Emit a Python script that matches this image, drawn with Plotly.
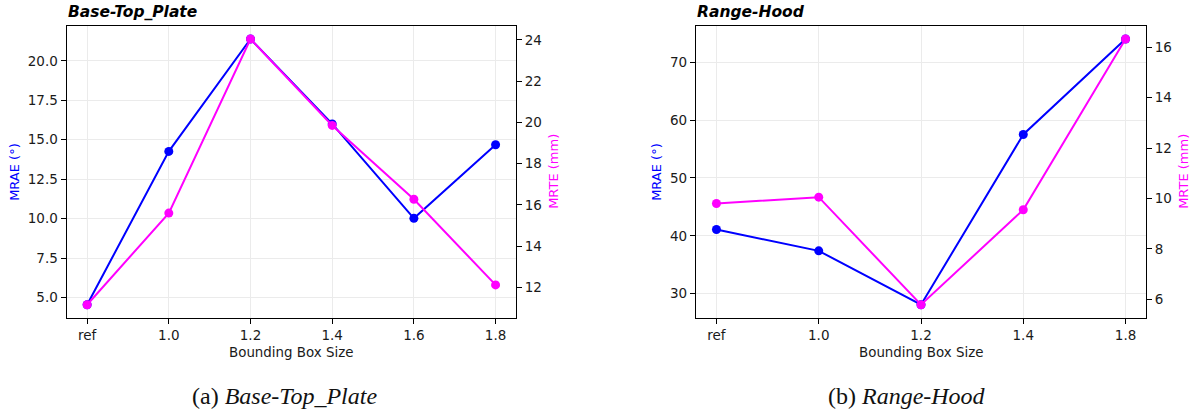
import plotly.graph_objects as go

# Bounding-box scale factors
sizes_a = ["ref", "1.0", "1.2", "1.4", "1.6", "1.8"]
sizes_b = ["ref", "1.0", "1.2", "1.4", "1.8"]

# Base-Top_Plate errors
mrae_a = [4.55, 14.26, 21.38, 16.0, 10.02, 14.68]
mrte_a = [11.16, 15.6, 24.04, 19.85, 16.27, 12.12]

# Range-Hood errors
mrae_b = [41.1, 37.4, 28.1, 57.5, 74.0]
mrte_b = [9.8, 10.05, 5.78, 9.55, 16.33]

BLUE = "#0000ff"
MAGENTA = "#ff00ff"
GRID = "#ebebeb"
FONT = "DejaVu Sans"

H = 412.0
W = 1196.0


def pad(vals, frac=0.05):
    lo, hi = min(vals), max(vals)
    m = (hi - lo) * frac
    return [lo - m, hi + m]


def line(x, y, color, xa, ya):
    return go.Scatter(
        x=x, y=y, mode="lines+markers", xaxis=xa, yaxis=ya,
        line=dict(color=color, width=2),
        marker=dict(color=color, size=9),
        hoverinfo="skip", showlegend=False, cliponaxis=False,
    )


fig = go.Figure()
fig.add_trace(line(sizes_a, mrae_a, BLUE, "x", "y"))
fig.add_trace(line(sizes_a, mrte_a, MAGENTA, "x", "y2"))
fig.add_trace(line(sizes_b, mrae_b, BLUE, "x2", "y3"))
fig.add_trace(line(sizes_b, mrte_b, MAGENTA, "x2", "y4"))

# panel frames in pixels (left, right, top, bottom)
pa = (66.7, 516.0, 25.7, 318.0)
pb = (696.0, 1146.0, 25.7, 318.0)


def xdom(p):
    return [p[0] / W, p[1] / W]


def ydom(p):
    return [1 - p[3] / H, 1 - p[2] / H]


tickfont = dict(family=FONT, size=13.5, color="#1a1a1a")

xcommon = dict(
    type="category", showline=True, linecolor="black", linewidth=1.3,
    mirror=True, ticks="outside", ticklen=5, tickwidth=1, tickcolor="black",
    showgrid=True, gridcolor=GRID, gridwidth=1, tickfont=tickfont,
    zeroline=False, fixedrange=True,
)
yleft = dict(
    showline=True, linecolor="black", linewidth=1.3, mirror=True,
    ticks="outside", ticklen=5, tickwidth=1, tickcolor="black",
    showgrid=True, gridcolor=GRID, gridwidth=1, tickfont=tickfont,
    zeroline=False, fixedrange=True,
)
yright = dict(
    showline=False, side="right", ticks="outside", ticklen=5, tickwidth=1,
    tickcolor="black", showgrid=False, tickfont=tickfont, zeroline=False,
    fixedrange=True,
)

fig.update_layout(
    width=1196, height=412,
    margin=dict(l=0, r=0, t=0, b=0),
    paper_bgcolor="white", plot_bgcolor="white",
    font=dict(family=FONT, size=13, color="#1a1a1a"),
    xaxis=dict(xcommon, domain=xdom(pa), anchor="y",
               categoryorder="array", categoryarray=sizes_a,
               range=[-0.25, len(sizes_a) - 0.75]),
    yaxis=dict(yleft, domain=ydom(pa), anchor="x", range=pad(mrae_a),
               tick0=0, dtick=2.5, tickformat=".1f"),
    yaxis2=dict(yright, overlaying="y", anchor="x", range=pad(mrte_a),
                tick0=0, dtick=2),
    xaxis2=dict(xcommon, domain=xdom(pb), anchor="y3",
                categoryorder="array", categoryarray=sizes_b,
                range=[-0.2, len(sizes_b) - 0.8]),
    yaxis3=dict(yleft, domain=ydom(pb), anchor="x2", range=pad(mrae_b),
                tick0=0, dtick=10),
    yaxis4=dict(yright, overlaying="y3", anchor="x2", range=pad(mrte_b),
                tick0=0, dtick=2),
)

ann = []


def text(x, y, s, size, color="#1a1a1a", angle=0, family=FONT, xanchor="center"):
    ann.append(dict(
        x=x / W, y=1 - y / H, xref="paper", yref="paper", text=s,
        showarrow=False, textangle=angle, xanchor=xanchor, yanchor="middle",
        font=dict(family=family, size=size, color=color),
    ))


for p, title, lx, rx in [(pa, "Base-Top_Plate", 15, 554), (pb, "Range-Hood", 657, 1184)]:
    cy = (p[2] + p[3]) / 2
    text(lx, cy, "MRAE (°)", 13, BLUE, -90)
    text(rx, cy, "MRTE (mm)", 13, MAGENTA, -90)
    text((p[0] + p[1]) / 2, 352, "Bounding Box Size", 13.4)
    text(p[0] - 1, 12, "<b><i>" + title + "</i></b>", 15.5, "black", xanchor="left")

text(284, 396, "(a) <i>Base-Top_Plate</i>", 24, "#111111", family="Liberation Serif")
text(907, 396, "(b) <i>Range-Hood</i>", 24, "#111111", family="Liberation Serif")

fig.update_layout(annotations=ann)
fig.write_html("out.html")
